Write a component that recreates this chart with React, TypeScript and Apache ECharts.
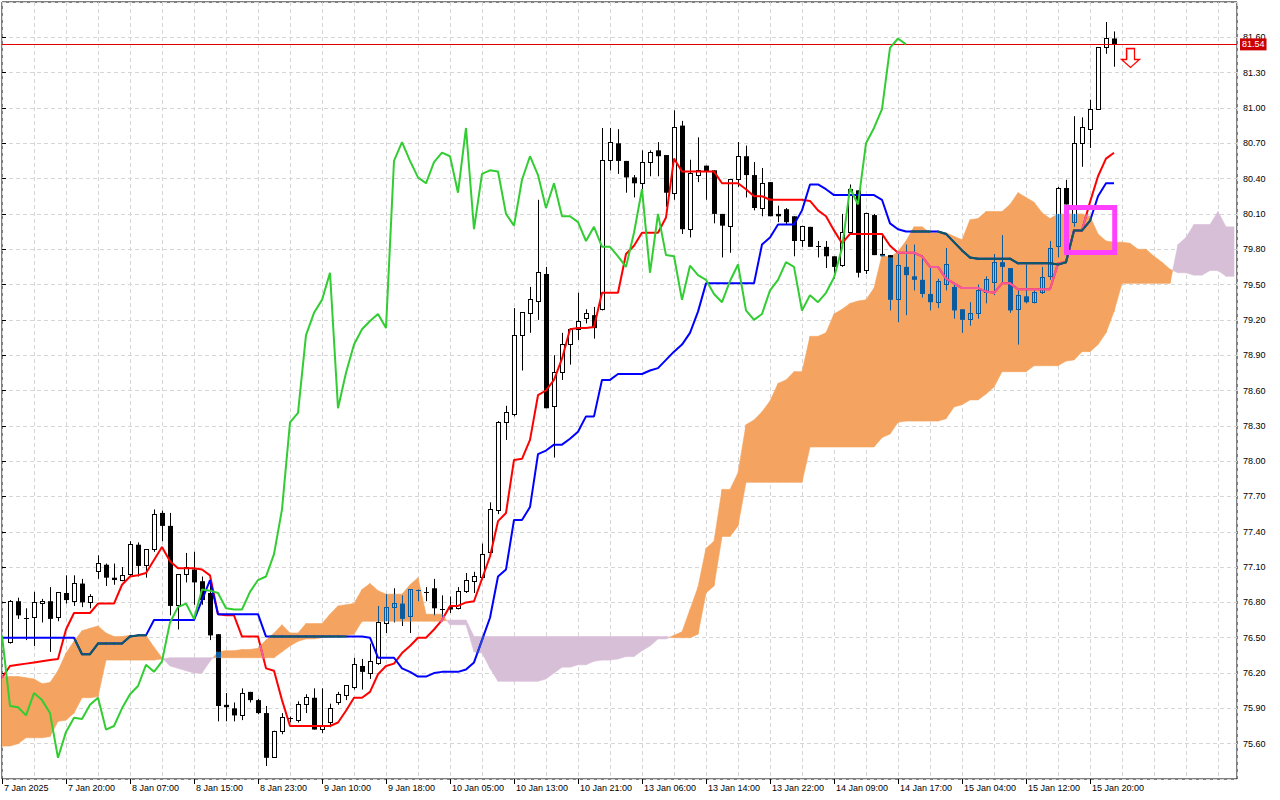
import React, { useEffect, useRef } from "react";
import * as echarts from "echarts";

// ---------------- data (bar index k = hourly bar, 0 = first bar on screen) ----------------
const tickBars = [0, 8, 16, 24, 32, 40, 48, 56, 64, 72, 80, 88, 96, 104, 112, 120, 128, 136];
const tickTexts = [
  "7 Jan 2025", "7 Jan 20:00", "8 Jan 07:00", "8 Jan 15:00", "8 Jan 23:00", "9 Jan 10:00",
  "9 Jan 18:00", "10 Jan 05:00", "10 Jan 13:00", "10 Jan 21:00", "13 Jan 06:00", "13 Jan 14:00",
  "13 Jan 22:00", "14 Jan 09:00", "14 Jan 17:00", "15 Jan 04:00", "15 Jan 12:00", "15 Jan 20:00",
];

const opens = [
  null, 76.46, 76.81, 76.67, 76.67, 76.79, 76.81, 76.67, 76.88, 76.81, 76.96,
  76.80, 77.06, 77.12, 77.01, 76.99, 77.04, 77.29, 77.11, 77.25, 77.56,
  77.45, 76.77, 77.04, 77.08, 76.98, 76.88, 76.53, 75.93, 75.90, 75.84,
  76.04, 75.97, 75.86, 75.48, 75.70, 75.80, 75.80, 75.93, 75.99, 75.72,
  75.78, 75.95, 76.01, 76.08, 76.26, 76.20, 76.28, 76.62, 76.76, 76.79,
  76.68, 76.89, 76.89, 76.92, 76.75, 76.76, 76.75, 76.89, 76.98, 77.01,
  77.22, 77.58, 78.33, 78.40, 79.07, 79.25, 79.36, 79.59, 78.46, 78.75,
  78.99, 79.12, 79.21, 79.24, 79.29, 80.55, 80.70, 80.55, 80.41, 80.36,
  80.54, 80.64, 80.60, 80.27, 80.85, 79.97, 80.43, 80.51, 80.47, 80.10,
  79.99, 80.39, 80.59, 80.43, 80.15, 80.37, 80.10, 80.14, 80.08, 79.87,
  79.99, 79.83, 79.82, 79.74, 79.66, 79.94, 80.30, 79.62, 80.09, 79.76,
  79.75, 79.37, 79.65, 79.57, 79.54, 79.42, 79.35, 79.50, 79.48, 79.29,
  79.20, 79.25, 79.43, 79.52, 79.69, 79.64, 79.29, 79.40, 79.35, 79.43,
  79.57, 79.82, 80.32, 80.03, 80.70, 80.82, 80.99, 81.51, 81.59,
];
const highs = [
  null, 76.82, 76.84, 76.75, 76.89, 76.83, 76.93, 76.88, 77.03, 77.03, 77.00,
  76.87, 77.20, 77.13, 77.13, 77.10, 77.32, 77.31, 77.25, 77.59, 77.58,
  77.56, 77.04, 77.22, 77.23, 77.02, 76.98, 76.53, 76.03, 75.95, 76.07,
  76.04, 75.98, 75.92, 75.71, 75.86, 75.83, 75.96, 76.02, 76.07, 76.07,
  75.94, 76.04, 76.09, 76.33, 76.32, 76.45, 76.77, 76.87, 76.92, 76.86,
  76.91, 76.91, 76.93, 77.00, 76.86, 76.85, 76.93, 77.05, 77.06, 77.30,
  77.65, 78.34, 78.47, 79.30, 79.26, 79.48, 80.22, 79.65, 78.90, 79.09,
  79.13, 79.43, 79.29, 79.31, 80.83, 80.83, 80.82, 80.55, 80.43, 80.64,
  80.64, 80.71, 80.60, 80.98, 80.89, 80.56, 80.75, 80.51, 80.47, 80.10,
  80.39, 80.71, 80.68, 80.54, 80.49, 80.37, 80.17, 80.15, 80.08, 80.00,
  79.99, 79.87, 79.87, 79.74, 80.10, 80.35, 80.30, 80.11, 80.10, 79.93,
  79.75, 79.76, 79.84, 79.84, 79.75, 79.65, 79.55, 79.81, 79.52, 79.29,
  79.35, 79.50, 79.57, 79.76, 79.92, 79.64, 79.45, 79.67, 79.45, 79.65,
  79.87, 80.33, 80.39, 80.93, 80.92, 81.07, 81.51, 81.73, 81.65,
];
const lows = [
  null, 76.45, 76.66, 76.48, 76.43, 76.63, 76.38, 76.64, 76.79, 76.77, 76.76,
  76.75, 77.00, 76.94, 76.95, 76.98, 77.02, 77.02, 77.01, 77.23, 77.32,
  76.69, 76.57, 76.97, 76.78, 76.78, 76.48, 75.79, 75.79, 75.79, 75.80,
  75.95, 75.85, 75.41, 75.48, 75.68, 75.78, 75.78, 75.86, 75.72, 75.69,
  75.74, 75.93, 75.97, 76.06, 76.06, 76.15, 76.27, 76.54, 76.63, 76.60,
  76.54, 76.81, 76.81, 76.69, 76.64, 76.71, 76.74, 76.88, 76.88, 76.99,
  77.20, 77.55, 78.18, 78.38, 78.77, 79.09, 79.20, 78.45, 78.03, 78.69,
  78.82, 79.03, 79.17, 79.04, 79.28, 80.47, 80.44, 80.28, 80.24, 80.29,
  80.42, 80.42, 80.16, 80.22, 79.93, 79.90, 80.37, 80.22, 80.02, 79.73,
  79.77, 80.33, 80.24, 80.13, 80.08, 80.08, 80.03, 80.01, 79.74, 79.82,
  79.82, 79.73, 79.64, 79.55, 79.65, 79.94, 79.56, 79.59, 79.75, 79.74,
  79.28, 79.18, 79.24, 79.45, 79.39, 79.28, 79.30, 79.45, 79.21, 79.09,
  79.15, 79.21, 79.34, 79.41, 79.51, 79.26, 78.99, 79.34, 79.34, 79.42,
  79.54, 79.73, 80.18, 79.99, 80.50, 80.66, 80.99, 81.46, 81.35,
];
const closes = [
  null, 76.81, 76.69, 76.66, 76.80, 76.81, 76.66, 76.88, 76.82, 76.96, 76.80,
  76.85, 77.13, 77.01, 76.99, 77.03, 77.29, 77.11, 77.25, 77.55, 77.45,
  76.77, 77.04, 77.10, 76.97, 76.82, 76.52, 75.92, 75.91, 75.84, 76.03,
  75.97, 75.86, 75.48, 75.70, 75.82, 75.81, 75.93, 75.99, 75.72, 75.75,
  75.90, 76.02, 76.09, 76.27, 76.21, 76.30, 76.63, 76.76, 76.79, 76.66,
  76.91, 76.90, 76.88, 76.75, 76.74, 76.74, 76.89, 76.99, 77.02, 77.21,
  77.59, 78.33, 78.41, 79.07, 79.26, 79.37, 79.60, 78.45, 78.75, 78.99,
  79.12, 79.19, 79.25, 79.13, 80.55, 80.71, 80.55, 80.41, 80.36, 80.54,
  80.62, 80.59, 80.28, 80.83, 79.97, 80.44, 80.47, 80.46, 80.10, 80.00,
  80.39, 80.59, 80.43, 80.15, 80.36, 80.08, 80.08, 80.03, 79.87, 79.99,
  79.82, 79.82, 79.74, 79.65, 79.94, 80.31, 79.60, 80.10, 79.75, 79.74,
  79.37, 79.66, 79.58, 79.54, 79.42, 79.35, 79.53, 79.67, 79.28, 79.20,
  79.25, 79.45, 79.54, 79.69, 79.65, 79.28, 79.41, 79.35, 79.43, 79.56,
  79.81, 80.32, 80.18, 80.70, 80.83, 80.99, 81.51, 81.59, 81.54,
];

// Tenkan-sen (red)
const tenkan = [
  76.16, 76.26, 76.27, 76.28, 76.29, 76.30, 76.31, 76.32, 76.57, 76.71,
  76.71, 76.71, 76.79, 76.79, 76.79, 76.95, 77.02, 77.03, 77.05, 77.16,
  77.27, 77.15, 77.09, 77.09, 77.09, 77.08, 77.03, 76.70, 76.69, 76.69,
  76.51, 76.51, 76.51, 76.24, 76.22, 75.97, 75.75, 75.75, 75.75, 75.75,
  75.75, 75.75, 75.78, 75.88, 75.99, 75.99, 76.04, 76.19, 76.26, 76.28,
  76.37, 76.43, 76.50, 76.50, 76.57, 76.65, 76.77, 76.77, 76.80, 76.81,
  77.00, 77.19, 77.49, 77.56, 78.01, 78.02, 78.18, 78.56, 78.60, 78.69,
  78.87, 79.12, 79.13, 79.13, 79.14, 79.43, 79.43, 79.43, 79.76, 79.83,
  79.94, 79.94, 79.94, 80.07, 80.57, 80.46, 80.46, 80.46, 80.46, 80.46,
  80.36, 80.36, 80.36, 80.31, 80.25, 80.25, 80.22, 80.22, 80.22, 80.22,
  80.22, 80.21, 80.13, 80.08, 79.96, 79.85, 79.93, 79.93, 79.93, 79.93,
  79.93, 79.83, 79.77, 79.77, 79.77, 79.74, 79.65, 79.65, 79.55, 79.51,
  79.47, 79.47, 79.47, 79.44, 79.43, 79.51, 79.51, 79.46, 79.46, 79.46,
  79.46, 79.46, 79.68, 79.69, 79.96, 79.96, 80.20, 80.42, 80.57, 80.62,
];
// Kijun-sen (blue)
const kijun = [
  76.50, 76.50, 76.50, 76.50, 76.50, 76.50, 76.50, 76.50, 76.50, 76.50,
  76.36, 76.36, 76.45, 76.45, 76.45, 76.45, 76.51, 76.52, 76.52, 76.65,
  76.65, 76.65, 76.65, 76.65, 76.65, 76.82, 76.99, 76.70, 76.70, 76.70,
  76.70, 76.70, 76.70, 76.51, 76.51, 76.51, 76.51, 76.51, 76.51, 76.51,
  76.51, 76.51, 76.51, 76.51, 76.51, 76.51, 76.50, 76.33, 76.33, 76.33,
  76.24, 76.21, 76.17, 76.17, 76.20, 76.21, 76.21, 76.21, 76.23, 76.29,
  76.48, 76.67, 77.02, 77.08, 77.50, 77.50, 77.61, 78.06, 78.09, 78.14,
  78.14, 78.19, 78.25, 78.38, 78.38, 78.69, 78.69, 78.74, 78.74, 78.74,
  78.74, 78.77, 78.79, 78.86, 78.93, 78.99, 79.09, 79.27, 79.51, 79.51,
  79.51, 79.51, 79.51, 79.51, 79.51, 79.84, 79.90, 80.01, 80.01, 80.01,
  80.13, 80.35, 80.35, 80.31, 80.26, 80.26, 80.26, 80.26, 80.26, 80.26,
  80.22, 80.02, 79.97, 79.95, 79.95, 79.95, 79.95, 79.95, 79.93, 79.86,
  79.79, 79.73, 79.72, 79.72, 79.72, 79.72, 79.72, 79.68, 79.68, 79.68,
  79.68, 79.68, 79.67, 79.69, 79.96, 79.96, 80.04, 80.25, 80.36, 80.36,
];
// Chikou span (green), bars 0..113
const chikou = [
  76.52, 75.92, 75.91, 75.84, 76.03, 75.97, 75.86, 75.48, 75.70, 75.82,
  75.81, 75.93, 75.99, 75.72, 75.75, 75.90, 76.02, 76.09, 76.27, 76.21,
  76.30, 76.63, 76.76, 76.79, 76.66, 76.91, 76.90, 76.88, 76.75, 76.74,
  76.74, 76.89, 76.99, 77.02, 77.21, 77.59, 78.33, 78.41, 79.07, 79.26,
  79.37, 79.60, 78.45, 78.75, 78.99, 79.12, 79.19, 79.25, 79.13, 80.55,
  80.71, 80.55, 80.41, 80.36, 80.54, 80.62, 80.59, 80.28, 80.83, 79.97,
  80.44, 80.47, 80.46, 80.10, 80.00, 80.39, 80.59, 80.43, 80.15, 80.36,
  80.08, 80.08, 80.03, 79.87, 79.99, 79.82, 79.82, 79.74, 79.65, 79.94,
  80.31, 79.60, 80.10, 79.75, 79.74, 79.37, 79.66, 79.58, 79.54, 79.42,
  79.35, 79.53, 79.67, 79.28, 79.20, 79.25, 79.45, 79.54, 79.69, 79.65,
  79.28, 79.41, 79.35, 79.43, 79.56, 79.81, 80.32, 80.18, 80.70, 80.83,
  80.99, 81.51, 81.59, 81.54,
];
// Senkou span A / B (cloud), bars 0..154
const spanA = [
  76.17, 76.17, 76.17, 76.16, 76.15, 76.11, 76.12, 76.22, 76.37, 76.47,
  76.56, 76.58, 76.60, 76.54, 76.51, 76.51, 76.52, 76.52, 76.52, 76.42,
  76.33, 76.26, 76.24, 76.22, 76.20, 76.20, 76.30, 76.38, 76.39, 76.39,
  76.40, 76.40, 76.41, 76.48, 76.54, 76.61, 76.54, 76.54, 76.62, 76.62,
  76.62, 76.70, 76.77, 76.78, 76.79, 76.91, 76.96, 76.90, 76.87, 76.87,
  76.87, 76.95, 77.01, 76.70, 76.70, 76.70, 76.61, 76.61, 76.61, 76.38,
  76.37, 76.24, 76.13, 76.13, 76.13, 76.13, 76.13, 76.13, 76.15, 76.20,
  76.25, 76.25, 76.27, 76.27, 76.30, 76.31, 76.31, 76.32, 76.34, 76.34,
  76.39, 76.43, 76.49, 76.49, 76.52, 76.55, 76.74, 76.93, 77.26, 77.32,
  77.76, 77.76, 77.90, 78.31, 78.35, 78.42, 78.51, 78.66, 78.69, 78.76,
  78.76, 79.06, 79.06, 79.09, 79.25, 79.29, 79.34, 79.36, 79.37, 79.47,
  79.75, 79.73, 79.78, 79.87, 79.99, 79.99, 79.94, 79.94, 79.94, 79.91,
  79.88, 80.05, 80.06, 80.12, 80.12, 80.12, 80.18, 80.28, 80.24, 80.20,
  80.11, 80.06, 80.10, 80.10, 80.10, 80.10, 80.08, 79.93, 79.87, 79.86,
  79.86, 79.85, 79.80, 79.80, 79.74, 79.69, 79.63, 79.60, 79.60, 79.58,
  79.58, 79.62, 79.62, 79.57, 79.57,
];
const spanB = [
  75.58, 75.58, 75.60, 75.65, 75.65, 75.65, 75.66, 75.79, 75.80, 75.86,
  75.99, 75.99, 76.00, 76.31, 76.31, 76.31, 76.31, 76.31, 76.31, 76.31,
  76.32, 76.33, 76.33, 76.33, 76.33, 76.33, 76.33, 76.33, 76.33, 76.33,
  76.33, 76.33, 76.33, 76.33, 76.33, 76.38, 76.43, 76.47, 76.49, 76.49,
  76.50, 76.51, 76.51, 76.52, 76.53, 76.64, 76.64, 76.64, 76.64, 76.64,
  76.64, 76.64, 76.64, 76.64, 76.64, 76.64, 76.65, 76.65, 76.65, 76.51,
  76.51, 76.51, 76.51, 76.51, 76.51, 76.51, 76.51, 76.51, 76.51, 76.51,
  76.51, 76.51, 76.51, 76.51, 76.51, 76.51, 76.51, 76.51, 76.51, 76.51,
  76.51, 76.51, 76.51, 76.51, 76.50, 76.50, 76.50, 76.53, 76.88, 76.94,
  77.36, 77.36, 77.45, 77.82, 77.82, 77.82, 77.82, 77.82, 77.82, 77.82,
  77.82, 78.12, 78.12, 78.12, 78.12, 78.12, 78.12, 78.12, 78.12, 78.12,
  78.20, 78.23, 78.33, 78.34, 78.34, 78.34, 78.34, 78.34, 78.36, 78.46,
  78.48, 78.52, 78.52, 78.57, 78.63, 78.76, 78.76, 78.76, 78.76, 78.81,
  78.81, 78.81, 78.81, 78.85, 78.86, 78.93, 78.93, 78.99, 79.09, 79.27,
  79.51, 79.51, 79.51, 79.51, 79.51, 79.51, 79.51, 79.84, 79.90, 80.01,
  80.01, 80.01, 80.12, 79.99, 79.99,
];

const currentPrice = 81.54;
// annotations in (bar, price) coordinates
const signalBox = [133.06, 80.155, 139.09, 79.773];
const sellArrow = [141, 81.51];

// ---------------- styles ----------------
const ORANGE = "#F4A460";
const THISTLE = "#D8BFD8";
const TINT_ORANGE: any = { candle: "#0B5B9F", tenkan: "#F45B9F", kijun: "#0B5B60" };
const TINT_THISTLE: any = { candle: "#274027", tenkan: "#D84027", kijun: "#2740D8" };
const FONT = "Tahoma, 'Liberation Sans', Arial, sans-serif";
const GRID_LINE = { color: "#D6D6D6", type: [4, 3] as any, width: 1 };

const labelOf = (v: number) => {
  const i = tickBars.indexOf(Math.round(v));
  return i >= 0 && Math.abs(v - Math.round(v)) < 1e-6 ? tickTexts[i] : "";
};

function cloudRender(params: any, api: any) {
  const i = api.value(0);
  const a0 = spanA[i], a1 = spanA[i + 1], b0 = spanB[i], b1 = spanB[i + 1];
  const P = (x: number, y: number) => api.coord([x, y]);
  const poly = (pts: number[][], up: boolean) => ({
    type: "polygon",
    shape: { points: pts },
    style: { fill: up ? ORANGE : THISTLE, stroke: up ? ORANGE : THISTLE, lineWidth: 0.6 },
  });
  const d0 = a0 - b0, d1 = a1 - b1;
  if (d0 * d1 >= 0) {
    const up = d0 + d1 >= 0;
    return { type: "group", children: [poly([P(i, a0), P(i + 1, a1), P(i + 1, b1), P(i, b0)], up)] };
  }
  const t = d0 / (d0 - d1);
  const xm = i + t, ym = a0 + (a1 - a0) * t;
  return {
    type: "group",
    children: [
      poly([P(i, a0), P(xm, ym), P(i, b0)], d0 > 0),
      poly([P(xm, ym), P(i + 1, a1), P(i + 1, b1)], d1 > 0),
    ],
  };
}

function cloudPieces(vals: number[], i: number) {
  const v0 = vals[i], v1 = vals[i + 1];
  const a0 = spanA[i], a1 = spanA[i + 1], b0 = spanB[i], b1 = spanB[i + 1];
  const ts = [0, 1];
  const root = (d0: number, d1: number) => {
    if ((d0 > 0 && d1 < 0) || (d0 < 0 && d1 > 0)) ts.push(d0 / (d0 - d1));
  };
  root(v0 - a0, v1 - a1);
  root(v0 - b0, v1 - b1);
  root(a0 - b0, a1 - b1);
  ts.sort((x, y) => x - y);
  const out: any[] = [];
  const EPS = 0.008;
  for (let j = 0; j < ts.length - 1; j++) {
    const t0 = ts[j], t1 = ts[j + 1];
    if (t1 - t0 < 1e-6) continue;
    const tm = (t0 + t1) / 2;
    const v = v0 + (v1 - v0) * tm, a = a0 + (a1 - a0) * tm, b = b0 + (b1 - b0) * tm;
    if (v >= Math.min(a, b) - EPS && v <= Math.max(a, b) + EPS) out.push({ t0, t1, up: a >= b });
  }
  return out;
}

const overlayRender = (vals: number[], key: string) => (params: any, api: any) => {
  const i = api.value(0);
  const v0 = vals[i], v1 = vals[i + 1];
  const children = cloudPieces(vals, i).map((p: any) => {
    const s = api.coord([i + p.t0, v0 + (v1 - v0) * p.t0]);
    const e = api.coord([i + p.t1, v0 + (v1 - v0) * p.t1]);
    return {
      type: "line",
      shape: { x1: s[0], y1: s[1], x2: e[0], y2: e[1] },
      style: { stroke: (p.up ? TINT_ORANGE : TINT_THISTLE)[key], lineWidth: 2, lineCap: "round" },
    };
  });
  return { type: "group", children };
};

function candleRender(params: any, api: any) {
  const k = api.value(0);
  const o = api.value(1), h = api.value(2), l = api.value(3), c = api.value(4);
  const a = spanA[k], b = spanB[k];
  const lo = Math.min(a, b), hi = Math.max(a, b);
  const tint = a >= b ? TINT_ORANGE.candle : TINT_THISTLE.candle;
  const inside = (p: number) => p >= lo && p <= hi;
  const col = (ins: boolean) => (ins ? tint : "#000000");
  const cx = Math.round(api.coord([k, o])[0]) + 0.5;
  const Y = (p: number) => api.coord([k, p])[1];
  const Yc = (p: number) => Math.round(Y(p) - 0.5) + 0.5;
  const split = (p0: number, p1: number) => {
    const cuts = [p0];
    if (lo > p0 && lo < p1) cuts.push(lo);
    if (hi > p0 && hi < p1) cuts.push(hi);
    cuts.push(p1);
    const out: any[] = [];
    for (let j = 0; j < cuts.length - 1; j++) {
      const m = (cuts[j] + cuts[j + 1]) / 2;
      out.push([cuts[j], cuts[j + 1], inside(m)]);
    }
    return out;
  };
  const ch: any[] = [];
  for (const [s0, s1, ins] of split(l, h)) {
    ch.push({ type: "line", shape: { x1: cx, y1: Y(s0), x2: cx, y2: Y(s1) }, style: { stroke: col(ins), lineWidth: 1 } });
  }
  const top = Math.max(o, c), bot = Math.min(o, c);
  const yT = Y(top), yB = Y(bot);
  if (yB - yT < 1.5) {
    const yy = Yc(c);
    ch.push({ type: "line", shape: { x1: cx - 2.5, y1: yy, x2: cx + 2.5, y2: yy }, style: { stroke: col(inside(c)), lineWidth: 1 } });
  } else if (c < o) {
    for (const [s0, s1, ins] of split(bot, top)) {
      ch.push({ type: "rect", shape: { x: cx - 2.5, y: Y(s1), width: 5, height: Y(s0) - Y(s1) }, style: { fill: col(ins) } });
    }
  } else {
    for (const [s0, s1, ins] of split(bot, top)) {
      if (!ins) ch.push({ type: "rect", shape: { x: cx - 2, y: Y(s1), width: 4, height: Y(s0) - Y(s1) }, style: { fill: "#FFFFFF" } });
      ch.push({ type: "line", shape: { x1: cx - 2, y1: Y(s0), x2: cx - 2, y2: Y(s1) }, style: { stroke: col(ins), lineWidth: 1 } });
      ch.push({ type: "line", shape: { x1: cx + 2, y1: Y(s0), x2: cx + 2, y2: Y(s1) }, style: { stroke: col(ins), lineWidth: 1 } });
    }
    const yt = Yc(top), yb = Yc(bot);
    ch.push({ type: "line", shape: { x1: cx - 2.5, y1: yt, x2: cx + 2.5, y2: yt }, style: { stroke: col(inside(top)), lineWidth: 1 } });
    ch.push({ type: "line", shape: { x1: cx - 2.5, y1: yb, x2: cx + 2.5, y2: yb }, style: { stroke: col(inside(bot)), lineWidth: 1 } });
  }
  return { type: "group", children: ch };
}

function boxRender(params: any, api: any) {
  const p0 = api.coord([api.value(0), api.value(1)]);
  const p1 = api.coord([api.value(2), api.value(3)]);
  return {
    type: "rect",
    shape: { x: p0[0], y: p0[1], width: p1[0] - p0[0], height: p1[1] - p0[1] },
    style: { fill: "none", stroke: "#FF40FF", lineWidth: 5 },
  };
}

function arrowRender(params: any, api: any) {
  const p = api.coord([api.value(0), api.value(1)]);
  const x = Math.round(p[0]) + 0.5, y = Math.round(p[1]) + 0.5;
  const pts = [
    [x - 4, y], [x + 4, y], [x + 4, y + 11], [x + 9, y + 11], [x, y + 19], [x - 9, y + 11], [x - 4, y + 11],
  ];
  return {
    type: "group",
    children: [
      { type: "polygon", shape: { points: pts }, style: { fill: "#FFFFFF", stroke: "#FF0000", lineWidth: 1.3 } },
      { type: "polyline", shape: { points: [[x - 3, y + 11], [x - 3, y + 1], [x + 3, y + 1]] }, style: { fill: "none", stroke: "#FF99AA", lineWidth: 1 } },
    ],
  };
}

const X_MAX = 154.375;

const option: any = {
  animation: false,
  backgroundColor: "#FFFFFF",
  grid: { left: 2, right: 43, top: 2, bottom: 21, show: true, borderColor: "#000000", borderWidth: 1, backgroundColor: "transparent" },
  xAxis: [
    {
      type: "value", min: 0, max: X_MAX, interval: 4, position: "bottom",
      axisLine: { show: false }, axisTick: { show: false }, axisLabel: { show: false },
      splitLine: { show: true, lineStyle: GRID_LINE },
    },
    {
      type: "value", min: 0, max: X_MAX, interval: 8, position: "bottom",
      axisLine: { show: false },
      axisTick: { show: true, length: 5, lineStyle: { color: "#000000" }, customValues: tickBars },
      axisLabel: {
        show: true, customValues: tickBars, formatter: (v: number) => labelOf(v), align: "left",
        color: "#000000", fontSize: 9, fontFamily: FONT, margin: 4, padding: [0, 0, 0, 2],
      },
      splitLine: { show: false },
    },
  ],
  yAxis: {
    type: "value", position: "right", min: 75.3, max: 81.9, interval: 0.3,
    axisLine: { show: false },
    axisTick: { show: true, length: 4, lineStyle: { color: "#000000" } },
    axisLabel: {
      show: true, color: "#000000", fontSize: 9, fontFamily: FONT, margin: 6,
      showMinLabel: false, showMaxLabel: false, formatter: (v: number) => v.toFixed(2),
    },
    splitLine: { show: true, lineStyle: GRID_LINE },
  },
  series: [
    {
      name: "cloud", type: "custom", z: 1, silent: true, clip: true,
      renderItem: cloudRender,
      encode: { x: 0, y: [1, 2] },
      data: spanA.slice(0, -1).map((v, i) => [i, v, spanB[i]]),
    },
    {
      name: "candles", type: "custom", z: 2, silent: true, clip: true,
      renderItem: candleRender,
      encode: { x: 0, y: [1, 2, 3, 4] },
      data: opens.map((o, k) => (o == null ? null : [k, o, highs[k], lows[k], closes[k]])).filter((d) => d != null),
    },
    {
      name: "Tenkan-sen", type: "line", z: 3, silent: true, showSymbol: false, symbol: "none", clip: true,
      lineStyle: { color: "#FF0000", width: 2 },
      data: tenkan.map((v, i) => [i, v]),
    },
    {
      name: "Kijun-sen", type: "line", z: 3, silent: true, showSymbol: false, symbol: "none", clip: true,
      lineStyle: { color: "#0000FF", width: 2 },
      data: kijun.map((v, i) => [i, v]),
    },
    {
      name: "tenkan-in-cloud", type: "custom", z: 4, silent: true, clip: true,
      renderItem: overlayRender(tenkan, "tenkan"),
      encode: { x: 0, y: 1 },
      data: tenkan.slice(0, -1).map((v, i) => [i, v]),
    },
    {
      name: "kijun-in-cloud", type: "custom", z: 4, silent: true, clip: true,
      renderItem: overlayRender(kijun, "kijun"),
      encode: { x: 0, y: 1 },
      data: kijun.slice(0, -1).map((v, i) => [i, v]),
    },
    {
      name: "Chikou span", type: "line", z: 5, silent: true, showSymbol: false, symbol: "none", clip: true,
      lineStyle: { color: "#32CD32", width: 2 },
      data: chikou.map((v, i) => [i, v]),
      markLine: {
        silent: true, symbol: "none", animation: false,
        lineStyle: { color: "#E00000", width: 1, type: "solid" },
        label: {
          show: true, position: "end", distance: 3, formatter: currentPrice.toFixed(2),
          color: "#FFFFFF", backgroundColor: "#CC0000", padding: [2, 2, 1, 2],
          fontSize: 9, fontFamily: FONT,
        },
        data: [{ yAxis: currentPrice }],
      },
    },
    {
      name: "signal box", type: "custom", z: 6, silent: true, clip: true,
      renderItem: boxRender,
      encode: { x: [0, 2], y: [1, 3] },
      data: [signalBox],
    },
    {
      name: "sell arrow", type: "custom", z: 6, silent: true, clip: true,
      renderItem: arrowRender,
      encode: { x: 0, y: 1 },
      data: [sellArrow],
    },
  ],
};

export default function App() {
  const ref = useRef<HTMLDivElement>(null);
  useEffect(() => {
    const chart = echarts.init(ref.current as HTMLDivElement, null, { renderer: "svg" });
    chart.setOption(option);
    return () => chart.dispose();
  }, []);
  return (
    <div
      ref={ref}
      style={{ position: "fixed", left: 0, top: 0, width: 1280, height: 800, background: "#FFFFFF" }}
    />
  );
}
